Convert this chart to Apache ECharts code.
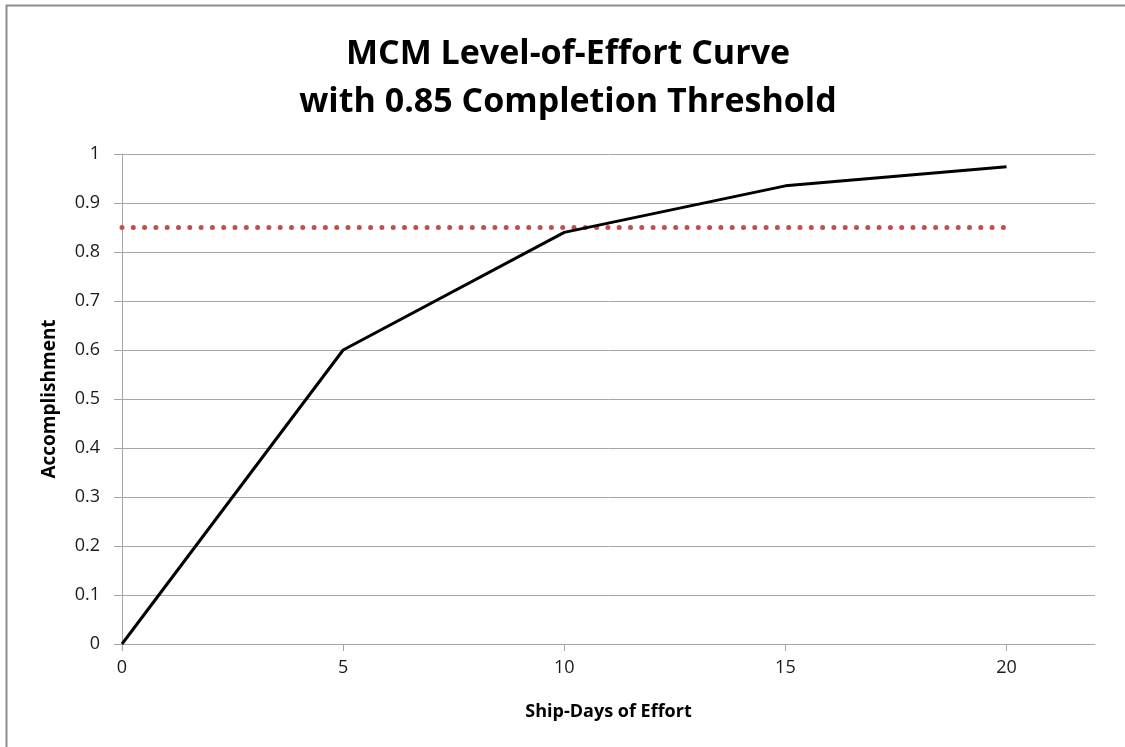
<!DOCTYPE html>
<html>
<head>
<meta charset="utf-8">
<title>MCM Level-of-Effort Curve</title>
<script src="https://cdn.jsdelivr.net/npm/echarts@6/dist/echarts.min.js"></script>
<style>
    html, body {
        margin: 0;
        padding: 0;
        background: #fff;
    }

    #chart {
        width: 1125px;
        height: 747px;
    }
</style>
</head>
<body>
<div id="chart"></div>
<script>
// effort curve (ship-days -> accomplishment)
let shipDays = [0, 5, 10, 15, 20]
let accomplishment = [0, 0.6, 0.84, 0.935, 0.974]

// completion threshold line
let thresholdDays = [0, 20]
let thresholdLevel = [0.85, 0.85]

let xTicks = [0, 5, 10, 15, 20]

let font = 'Open Sans'
let gray = '#a6a6a6'

let myChart = echarts.init(document.getElementById('chart'))
let option = {
    animation: false,
    backgroundColor: '#fff',
    graphic: [
        {
            type: 'rect',
            silent: true,
            shape: { x: 6.5, y: 5.5, width: 1200, height: 800 },
            style: { fill: 'none', stroke: '#8c8c8c', lineWidth: 2 }
        },
        {
            // two-line title, centred over the chart
            type: 'text',
            silent: true,
            x: 568,
            y: 30,
            style: {
                text: 'MCM Level-of-Effort Curve\nwith 0.85 Completion Threshold',
                align: 'center',
                verticalAlign: 'top',
                fontFamily: font,
                fontSize: 34,
                fontWeight: 'bold',
                lineHeight: 48,
                fill: '#000'
            }
        }
    ],
    grid: {
        left: 122,
        right: 30,
        top: 154,
        bottom: 103
    },
    xAxis: {
        type: 'value',
        min: 0,
        max: 22,
        interval: 5,
        name: 'Ship-Days of Effort',
        nameLocation: 'middle',
        nameGap: 59,
        nameTextStyle: {
            fontFamily: font,
            fontSize: 18,
            fontWeight: 'bold',
            color: '#000'
        },
        splitLine: { show: false },
        axisLine: { lineStyle: { color: gray, width: 1 } },
        axisTick: {
            customValues: xTicks,
            length: 7,
            lineStyle: { color: gray }
        },
        axisLabel: {
            customValues: xTicks,
            margin: 15,
            fontFamily: font,
            fontSize: 18,
            color: '#1a1a1a'
        }
    },
    yAxis: {
        type: 'value',
        min: 0,
        max: 1,
        interval: 0.1,
        name: 'Accomplishment',
        nameLocation: 'middle',
        nameGap: 63,
        nameTextStyle: {
            fontFamily: font,
            fontSize: 19,
            fontWeight: 'bold',
            color: '#000'
        },
        splitLine: { lineStyle: { color: gray, width: 1 } },
        axisLine: { show: true, lineStyle: { color: gray, width: 1 } },
        axisTick: { show: true, length: 8, lineStyle: { color: gray } },
        axisLabel: {
            margin: 22,
            fontFamily: font,
            fontSize: 18,
            color: '#1a1a1a'
        }
    },
    series: [
        {
            type: 'line',
            name: 'Threshold',
            symbol: 'none',
            lineStyle: {
                color: '#c0504d',
                width: 5,
                type: [0, 11.3],
                cap: 'round'
            },
            data: thresholdDays.map((d, i) => [d, thresholdLevel[i]])
        },
        {
            type: 'line',
            name: 'Accomplishment',
            symbol: 'none',
            lineStyle: {
                color: '#000',
                width: 3
            },
            data: shipDays.map((d, i) => [d, accomplishment[i]])
        }
    ]
}

myChart.setOption(option)
</script>
</body>
</html>
